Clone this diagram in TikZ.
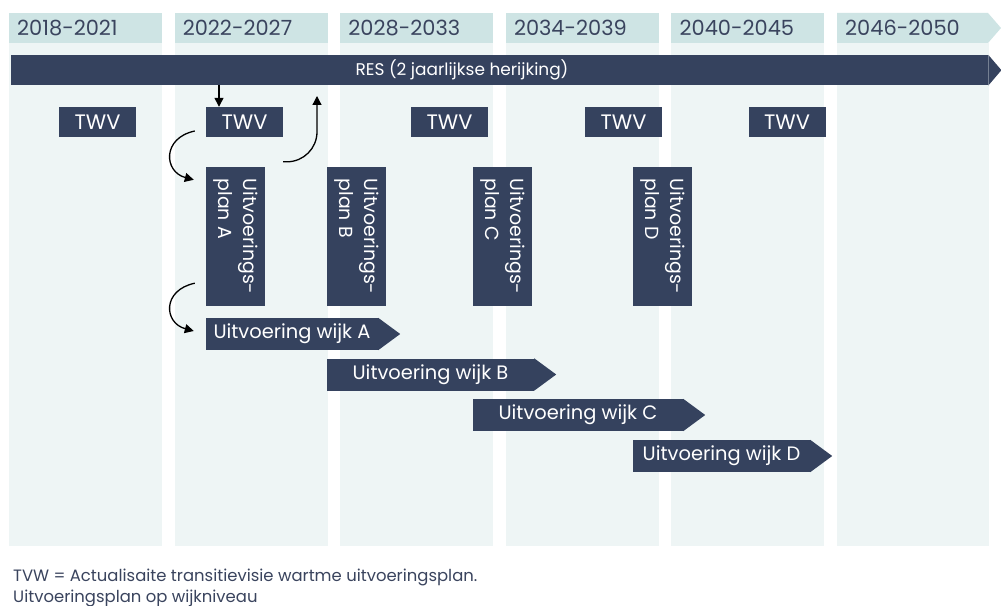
\documentclass[tikz,border=0pt]{standalone}
\usepackage{fontspec}
\setmainfont{Poppins}
\usetikzlibrary{arrows.meta}
\definecolor{navy}{RGB}{53,66,94}
\definecolor{hdr}{RGB}{206,228,228}
\definecolor{bodyc}{RGB}{238,245,245}
\definecolor{txt}{RGB}{58,68,94}
\tikzset{
  hdrtext/.style={anchor=west, inner sep=0, text=txt, font=\fontsize{21}{24}\selectfont},
  twvbox/.style={fill=navy, text=white, minimum width=77bp, minimum height=30bp, inner sep=0, font=\fontsize{21}{24}\selectfont},
  planbox/.style={fill=navy, text=white, rotate=-90, minimum width=139bp, minimum height=59bp, inner sep=0, align=left, font=\fontsize{19}{25}\selectfont},
  wijkbox/.style={fill=navy, text=white, minimum height=32bp, inner sep=0, font=\fontsize{19.5}{22}\selectfont},
  arr/.style={draw=black, line width=1.3bp, -{Triangle[length=9bp,width=9bp]}},
  foot/.style={anchor=base west, inner sep=0, text=txt, font=\fontsize{16.5}{20}\selectfont}
}
\begin{document}
\begin{tikzpicture}[x=1bp,y=-1bp]
\useasboundingbox (0,0) rectangle (1001,606);
\fill[white] (0,0) rectangle (1001,606);
% columns
\foreach \x/\lab/\n in {9/2018-2021/1, 174.6/2022-2027/2, 340.2/2028-2033/3, 505.8/2034-2039/4, 671.4/2040-2045/5}{
  \fill[bodyc] (\x,43) rectangle +(153,503);
  \fill[hdr] (\x,13) rectangle +(153,30);
  \node[hdrtext] (h\n) at (\x+8,28) {\lab};
}
\fill[bodyc] (837,43) rectangle (989,546);
\fill[hdr] (837,13) -- (988,13) -- (1001,28) -- (988,43) -- (837,43) -- cycle;
\node[hdrtext] (h6) at (845,28) {2046-2050};
% RES bar
\node[fill=navy, minimum width=977bp, minimum height=30bp, inner sep=0, anchor=north west] (resbar) at (11,55) {};
\fill[navy] (resbar.north east) -- ([xshift=13bp]resbar.east) -- (resbar.south east) -- cycle;
\node[text=white, inner sep=0, font=\fontsize{17}{20}\selectfont] (res) at (462,70) {RES (2 jaarlijkse herijking)};
% TWV
\node[twvbox] (t1) at (97.5,122) {TWV};
\node[twvbox] (t2) at (244.5,122) {TWV};
\node[twvbox] (t3) at (449.5,122) {TWV};
\node[twvbox] (t4) at (623.5,122) {TWV};
\node[twvbox] (t5) at (787,122) {TWV};
% plans
\node[planbox] (pA) at (235.5,236.5) {Uitvoerings-\\plan A};
\node[planbox] (pB) at (356.5,236.5) {Uitvoerings-\\plan B};
\node[planbox] (pC) at (502.5,236.5) {Uitvoerings-\\plan C};
\node[planbox] (pD) at (662.5,236.5) {Uitvoerings-\\plan D};
% wijk arrows
\node[wijkbox, minimum width=172bp] (wA) at (292,334) {Uitvoering wijk A};
\node[wijkbox, minimum width=207bp] (wB) at (430.5,374.5) {Uitvoering wijk B};
\node[wijkbox, minimum width=210bp] (wC) at (578,415) {Uitvoering wijk C};
\node[wijkbox, minimum width=177bp] (wD) at (721.5,456) {Uitvoering wijk D};
\foreach \w in {wA,wB,wC,wD}{
  \fill[navy] (\w.north east) -- ([xshift=22bp]\w.east) -- (\w.south east) -- cycle;
}
% connectors
\coordinate (ra) at (219,85);
\draw[arr] (ra) -- (ra |- t2.north);
\draw[arr] ([xshift=-11bp,yshift=-9bp]t2.west) .. controls +(-33,7) and +(-30,-8) .. ([xshift=-12bp,yshift=-13bp]pA.south west);
\draw[arr] ([xshift=-11bp,yshift=23bp]pA.south east) .. controls +(-33,7) and +(-30,-8) .. ([xshift=-12bp,yshift=3bp]wA.west);
\coordinate (up) at (317,96);
\draw[arr, rounded corners=30bp] ([xshift=18bp,yshift=5bp]pA.north west) -| (up);
% footer
\node[foot] (f1) at (13,581) {TVW = Actualisaite transitievisie wartme uitvoeringsplan.};
\node[foot] (f2) at (13,602) {Uitvoeringsplan op wijkniveau};
\end{tikzpicture}
\end{document}
